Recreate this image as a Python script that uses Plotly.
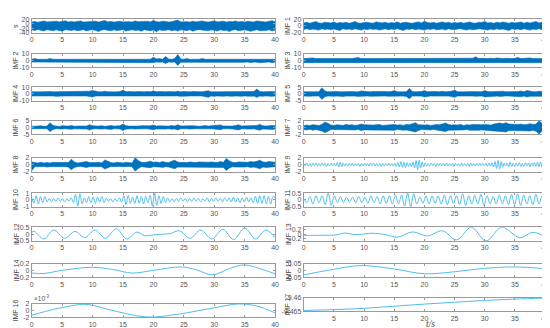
import numpy as np
import plotly.graph_objects as go

# ---------------- data ----------------
names = ["s"] + ["IMF " + str(i) for i in range(1, 18)]

# dense, noise-like components: upper / lower envelopes sampled every 0.5 s
s_up = [7, 10, 6, 9, 12, 8, 9, 7, 11, 8, 9, 13, 7, 10, 8, 9, 12, 7, 8, 10,
        9, 11, 7, 9, 14, 8, 10, 7, 9, 11, 8, 10, 9, 7, 12, 9, 8, 10, 11, 7,
        15, 9, 8, 11, 10, 7, 9, 12, 16, 8, 10, 9, 7, 11, 8, 10, 12, 9, 7, 10,
        13, 8, 9, 11, 7, 10, 9, 12, 8, 10, 7, 11, 9, 8, 12, 10, 9, 7, 11, 13, 9]
s_lo = [-27, -30, -25, -29, -32, -26, -28, -31, -27, -29, -33, -26, -28, -30, -27, -31, -29, -26, -32, -28,
        -27, -30, -34, -28, -26, -29, -31, -27, -30, -28, -26, -32, -29, -27, -30, -28, -33, -26, -29, -31,
        -28, -35, -27, -30, -29, -26, -31, -28, -32, -27, -29, -30, -27, -33, -28, -26, -30, -29, -31, -27,
        -28, -32, -27, -30, -29, -34, -28, -26, -31, -29, -27, -30, -33, -28, -26, -31, -29, -30, -27, -32, -28]

imf1_up = [9, 11, 8, 10, 13, 9, 8, 11, 10, 9, 12, 8, 10, 9, 11, 8, 10, 13, 9, 8,
           10, 11, 9, 8, 12, 10, 9, 11, 8, 10, 9, 12, 8, 10, 11, 9, 8, 10, 12, 9,
           14, 10, 9, 11, 8, 10, 12, 9, 11, 8, 10, 9, 11, 8, 10, 12, 9, 8, 11, 10,
           13, 9, 10, 8, 11, 9, 12, 10, 8, 11, 9, 10, 12, 8, 11, 9, 10, 13, 9, 11, 10]
imf1_lo = [-10, -8, -11, -9, -10, -12, -8, -10, -9, -11, -9, -10, -13, -8, -10, -9, -11, -8, -10, -12,
           -9, -11, -8, -10, -9, -12, -10, -8, -11, -9, -10, -8, -11, -13, -9, -10, -8, -11, -9, -10,
           -12, -9, -10, -8, -11, -10, -9, -12, -8, -10, -11, -9, -8, -10, -12, -9, -11, -10, -8, -9,
           -10, -12, -9, -11, -8, -10, -9, -11, -13, -8, -10, -9, -11, -8, -10, -12, -9, -10, -8, -11, -9]

imf2_up = [2, 3, 2, 2.5, 2, 2, 3, 2, 2.5, 2, 2, 2, 3, 2, 2, 2.5, 2, 2, 3, 2,
           2.5, 2, 2, 2, 3, 2, 2, 2.5, 2, 2, 3, 2, 2.5, 2, 2, 2, 2.5, 2, 3, 2,
           5, 2.5, 3, 2, 6, 2.5, 2, 3, 9, 2.5, 2, 3, 2, 2.5, 2, 2, 3, 2, 2, 2.5,
           2, 2, 3, 2, 2.5, 2, 2, 3, 2, 2.5, 3, 2, 2.5, 3, 2, 2.5, 2, 3, 2, 2.5, 2]
imf2_lo = [-2, -2.5, -2, -3, -2, -2, -2.5, -2, -2, -3, -2, -2.5, -2, -2, -3, -2, -2, -2.5, -2, -2,
           -2, -3, -2, -2.5, -2, -2, -3, -2, -2.5, -2, -2, -2.5, -2, -3, -2, -2, -2, -2.5, -2, -3,
           -3, -2, -2.5, -2, -4, -2, -2.5, -2, -7, -2.5, -2, -2.5, -2, -3, -2, -2, -2.5, -2, -3, -2,
           -2, -3, -2, -2, -2.5, -2, -3, -2, -2, -2.5, -2.5, -2, -3, -2, -2.5, -3, -2, -2.5, -2, -3, -2]

imf3_up = [3, 3.5, 3, 4, 3, 3.5, 3, 3, 3.5, 3, 3, 3.5, 3, 3, 3.5, 3, 3, 4, 4.5, 3,
           3, 3.5, 3, 3, 3.5, 3, 4, 3, 3, 3.5, 3, 3, 3.5, 3, 3, 4, 3, 3.5, 3, 3,
           3.5, 3, 3, 4, 3, 3.5, 3, 3, 3.5, 3, 3, 3.5, 3, 3, 4, 3, 3.5, 5.5, 3, 3.5,
           3, 3, 3.5, 3, 4, 3, 3, 3.5, 3, 3, 3.5, 4.5, 3, 3.5, 3, 4, 3, 3.5, 3, 3, 3]
imf3_lo = [-3, -3, -3.5, -3, -3, -3.5, -3, -4, -3, -3, -3.5, -3, -3, -3.5, -3, -3, -3.5, -3, -3, -4,
           -3, -3, -3.5, -3, -3, -3.5, -3, -3, -4, -3, -3, -3.5, -3, -3, -3.5, -3, -3, -3, -3.5, -3,
           -3, -3.5, -3, -3, -3.5, -4, -3, -3, -3.5, -3, -3, -3, -3.5, -3, -3, -3.5, -3, -4, -3, -3,
           -3.5, -3, -3, -3.5, -3, -3, -4, -3, -3.5, -3, -3, -3.5, -4, -3, -3, -3.5, -3, -3, -3.5, -3, -3]

imf4_up = [3, 3.5, 3, 3, 3.5, 3, 3.5, 3, 3, 3.5, 3, 3.5, 3, 3, 3.5, 3, 3.5, 3, 3, 4,
           5, 3.5, 3, 3, 4, 3, 3.5, 3, 3, 3.5, 5.5, 3, 3.5, 3, 3, 3.5, 3, 3, 3.5, 3,
           4.5, 3, 3.5, 3, 3, 3.5, 3, 3, 4, 3, 3.5, 3, 3, 3.5, 3, 3.5, 3, 4, 4.5, 3,
           3, 3.5, 3, 3, 3.5, 3, 3.5, 3, 4, 3.5, 3, 3.5, 3, 3.5, 7, 3.5, 3, 3.5, 3, 3.5, 3]
imf4_lo = [-3, -3, -3.5, -3, -3, -3.5, -3, -3, -3.5, -3, -3.5, -3, -3, -3.5, -3, -3, -3.5, -3, -3, -3.5,
           -4.5, -3, -3, -3.5, -3, -3, -3.5, -3, -3, -3, -4, -3, -3, -3.5, -3, -3.5, -3, -3, -3.5, -3,
           -3.5, -3, -3, -3.5, -3, -3, -3.5, -3, -3, -3.5, -3, -3.5, -3, -3, -3.5, -3, -3, -3.5, -5, -3,
           -3.5, -3, -3, -3.5, -3, -3, -3.5, -3, -3, -3.5, -3, -3, -3.5, -3, -5, -3, -3.5, -3, -3, -3.5, -3]

imf5_up = [1.5, 1.8, 1.6, 1.5, 1.8, 1.6, 4.5, 2.2, 1.5, 1.7, 1.6, 1.8, 1.5, 1.6, 1.9, 1.5, 1.7, 1.6, 1.5, 2.2,
           1.8, 1.6, 1.5, 1.7, 1.8, 1.6, 1.5, 1.8, 1.6, 1.7, 2.4, 1.6, 1.5, 1.8, 1.6, 4.0, 1.8, 1.6, 1.5, 1.7,
           2.5, 1.6, 1.8, 1.5, 1.7, 1.6, 1.9, 1.5, 1.7, 2.0, 2.8, 1.6, 1.5, 1.8, 1.6, 1.7, 1.8, 1.5, 2.0, 1.6,
           2.5, 1.7, 1.6, 1.8, 1.5, 1.7, 2.0, 1.6, 1.5, 1.8, 1.6, 1.7, 2.2, 1.6, 2.5, 1.8, 1.6, 1.5, 2.0, 1.7, 1.6]
imf5_lo = [-1.6, -1.5, -1.7, -1.6, -1.8, -1.5, -4.0, -2.0, -1.6, -1.5, -1.7, -1.6, -1.5, -1.8, -1.6, -1.7, -1.5, -1.6, -1.8, -2.0,
           -1.6, -1.5, -1.7, -1.6, -1.5, -1.8, -1.6, -1.5, -1.7, -1.6, -2.0, -1.5, -1.7, -1.6, -1.8, -3.5, -1.6, -1.5, -1.7, -1.6,
           -2.2, -1.7, -1.5, -1.6, -1.8, -1.5, -1.7, -1.6, -1.5, -1.9, -2.5, -1.5, -1.7, -1.6, -1.5, -1.8, -1.6, -1.7, -1.8, -1.5,
           -2.2, -1.6, -1.5, -1.7, -1.6, -1.8, -1.9, -1.5, -1.6, -1.7, -1.5, -1.8, -2.0, -1.6, -2.2, -1.7, -1.5, -1.6, -1.8, -1.6, -1.7]

imf6_up = [0.8, 1.0, 0.9, 1.2, 0.9, 1.0, 3.5, 1.5, 1.0, 0.8, 1.2, 0.9, 1.0, 1.4, 0.9, 1.0, 0.8, 1.1, 1.0, 2.0,
           1.2, 0.9, 1.0, 1.3, 0.9, 1.1, 1.5, 1.0, 0.9, 1.2, 2.5, 1.3, 1.0, 0.9, 1.2, 1.0, 1.3, 1.1, 0.9, 1.2,
           1.8, 1.0, 1.2, 0.9, 1.1, 1.0, 1.4, 1.0, 2.0, 1.1, 1.0, 0.9, 1.2, 1.3, 1.0, 0.9, 1.1, 1.4, 1.0, 1.2,
           1.0, 1.3, 1.9, 1.1, 1.0, 1.2, 1.0, 1.4, 2.0, 1.1, 1.2, 1.0, 1.3, 1.1, 1.5, 2.2, 1.2, 1.0, 1.3, 1.5, 1.2]
imf6_lo = [-0.9, -1.0, -0.8, -1.1, -1.0, -0.9, -3.0, -1.4, -0.9, -1.0, -1.1, -1.0, -0.9, -1.3, -1.0, -0.9, -1.0, -1.0, -1.1, -1.8,
           -1.1, -1.0, -0.9, -1.2, -1.0, -1.0, -1.4, -0.9, -1.0, -1.1, -2.2, -1.2, -0.9, -1.0, -1.1, -0.9, -1.2, -1.0, -1.0, -1.1,
           -1.6, -1.1, -1.0, -1.0, -1.2, -0.9, -1.3, -1.1, -1.8, -1.0, -0.9, -1.0, -1.1, -1.2, -0.9, -1.0, -1.2, -1.3, -1.1, -1.0,
           -1.1, -1.2, -1.7, -1.0, -1.1, -1.0, -1.1, -1.3, -1.8, -1.0, -1.1, -1.1, -1.2, -1.0, -1.4, -2.0, -1.1, -1.1, -1.2, -1.4, -1.1]

imf7_up = [0.5, 0.7, 0.6, 0.8, 0.7, 0.6, 0.9, 1.6, 1.2, 0.7, 0.6, 0.8, 0.7, 0.6, 0.9, 0.7, 0.8, 0.6, 0.7, 1.0,
           0.8, 0.7, 0.6, 0.7, 0.8, 0.9, 0.6, 0.7, 0.8, 0.7, 0.9, 0.7, 0.8, 0.6, 0.9, 0.8, 1.2, 1.4, 0.8, 0.7,
           0.7, 0.8, 0.6, 0.7, 0.9, 0.8, 1.1, 1.3, 0.9, 0.7, 0.8, 0.7, 0.9, 0.6, 0.8, 0.7, 0.9, 0.8, 0.7, 0.8,
           0.9, 0.8, 0.7, 1.0, 1.2, 1.3, 1.1, 1.4, 1.0, 0.9, 0.8, 0.9, 1.0, 0.8, 0.9, 1.1, 0.9, 1.0, 2.0, 1.2, 0.8]
imf7_lo = [-0.6, -0.7, -0.5, -0.8, -0.6, -0.7, -1.0, -1.5, -1.1, -0.6, -0.7, -0.6, -0.8, -0.7, -0.6, -0.8, -0.7, -0.7, -0.6, -0.9,
           -0.7, -0.8, -0.6, -0.7, -0.7, -0.8, -0.7, -0.6, -0.7, -0.8, -0.8, -0.6, -0.7, -0.8, -0.7, -0.9, -1.1, -1.3, -0.9, -0.6,
           -0.8, -0.7, -0.7, -0.6, -0.8, -0.9, -1.0, -1.2, -0.8, -0.7, -0.7, -0.8, -0.7, -0.7, -0.6, -0.8, -0.8, -0.7, -0.8, -0.7,
           -0.8, -0.9, -0.8, -0.9, -1.1, -1.2, -1.2, -1.3, -0.9, -0.8, -0.9, -0.8, -0.9, -0.9, -1.0, -1.0, -0.8, -1.1, -1.9, -1.1, -0.7]

imf8_up = [0.8, 0.6, 0.5, 0.7, 0.5, 0.6, 0.5, 0.7, 0.6, 0.5, 0.6, 0.7, 0.6, 1.6, 0.8, 0.5, 0.6, 0.7, 0.9, 0.6,
           0.5, 0.6, 0.7, 0.5, 1.4, 0.9, 0.6, 0.5, 0.7, 0.6, 0.5, 0.7, 0.6, 0.5, 2.0, 1.2, 0.7, 0.6, 0.8, 1.0,
           0.7, 0.8, 0.6, 0.9, 0.7, 0.6, 1.0, 1.3, 0.8, 0.6, 0.7, 0.6, 0.8, 0.7, 0.6, 0.8, 0.7, 0.6, 0.7, 0.8,
           0.7, 0.6, 0.9, 0.7, 1.8, 1.1, 0.7, 0.6, 0.8, 0.7, 0.6, 0.7, 0.9, 0.8, 1.0, 1.3, 0.8, 0.7, 0.9, 0.8, 0.7]
imf8_lo = [-1.8, -0.6, -0.5, -0.6, -0.5, -0.7, -0.6, -0.5, -0.6, -0.6, -0.5, -0.6, -0.7, -1.5, -0.8, -0.6, -0.5, -0.6, -0.8, -0.6,
           -0.6, -0.5, -0.6, -0.6, -1.3, -0.8, -0.5, -0.6, -0.6, -0.5, -0.6, -0.6, -0.5, -0.6, -1.9, -1.1, -0.6, -0.7, -0.7, -0.9,
           -0.6, -0.7, -0.7, -0.8, -0.6, -0.7, -0.9, -1.2, -0.7, -0.6, -0.6, -0.7, -0.7, -0.6, -0.7, -0.7, -0.6, -0.7, -0.6, -0.7,
           -0.6, -0.7, -0.8, -0.8, -1.7, -1.0, -0.6, -0.7, -0.7, -0.6, -0.7, -0.6, -0.8, -0.7, -0.9, -1.2, -0.7, -0.8, -0.8, -0.7, -0.6]

# oscillating components: successive extrema, evenly spaced in time
imf9 = [0.4, -0.3, 0.5, -0.4, 0.3, -0.5, 0.4, -0.3, 0.5, -0.4, 0.3, -0.4, 0.5, -0.3, 0.4, -0.5, 0.3, -0.4, 0.4, -0.3,
        0.5, -0.4, 0.6, -0.7, 0.8, -0.6, 0.5, -0.4, 0.3, -0.4, 0.4, -0.3, 0.5, -0.4, 0.3, -0.3, 0.4, -0.5, 0.3, -0.4,
        0.4, -0.3, 0.3, -0.4, 0.5, -0.3, 0.4, -0.4, 0.3, -0.3, 0.4, -0.5, 0.3, -0.4, 0.4, -0.3, 0.5, -0.4, 0.3, -0.4,
        0.4, -0.5, 0.6, -0.7, 0.9, -0.8, 0.7, -0.9, 0.6, -0.5, 0.4, -0.6, 0.8, -1.0, 1.2, -1.5, 1.3, -1.0, 0.8, -0.6,
        0.5, -0.4, 0.3, -0.4, 0.5, -0.3, 0.4, -0.5, 0.4, -0.3, 0.5, -0.4, 0.3, -0.4, 0.5, -0.4, 0.3, -0.3, 0.4, -0.5,
        0.4, -0.3, 0.3, -0.4, 0.5, -0.4, 0.3, -0.3, 0.4, -0.5, 0.5, -0.4, 0.3, -0.4, 0.4, -0.3, 0.5, -0.4, 0.4, -0.3,
        0.4, -0.5, 0.5, -0.4, 0.6, -0.7, 0.9, -1.1, 1.3, -1.2, 0.9, -0.7, 0.5, -0.4, 0.5, -0.6, 0.7, -0.5, 0.4, -0.5,
        0.5, -0.4, 0.6, -0.5, 0.4, -0.5, 0.6, -0.4, 0.5, -0.6, 0.5, -0.4, 0.6, -0.5, 0.7, -0.6, 0.8, -0.7, 0.6, -0.5]

imf10 = [0.3, -0.5, 0.6, -0.6, 0.5, -0.4, 0.5, -0.3, 0.2, -0.3, 0.2, -0.2, 0.3, -0.2,
         0.2, -0.3, 0.2, -0.2, 0.3, -0.4, 0.8, -0.9, 0.9, -0.6, 0.3, -0.4, 0.5, -0.4,
         0.4, -0.5, 0.4, -0.3, 0.5, -0.4, 0.3, -0.2, 0.2, -0.3, 0.2, -0.2, 0.3, -0.3,
         0.6, -0.7, 0.7, -0.5, 0.4, -0.5, 0.6, -0.5, 0.5, -0.6, 0.5, -0.4, 0.7, -0.9,
         1.0, -0.8, 0.6, -0.5, 0.5, -0.4, 0.3, -0.3, 0.2, -0.3, 0.2, -0.2, 0.3, -0.2,
         0.2, -0.3, 0.2, -0.2, 0.3, -0.2, 0.2, -0.3, 0.2, -0.2, 0.3, -0.3, 0.2, -0.2,
         0.3, -0.2, 0.2, -0.3, 0.3, -0.2, 0.3, -0.3, 0.4, -0.3, 0.3, -0.4, 0.3, -0.3,
         0.4, -0.3, 0.3, -0.4, 0.5, -0.5, 0.6, -0.5, 0.6, -0.6, 0.5, -0.6, 0.5, 0.3]

imf11 = [0.1, -0.2, 0.25, -0.3, 0.3, -0.2, 0.3, -0.35, 0.5, -0.4,
         0.3, -0.2, 0.25, -0.2, 0.2, -0.15, 0.2, -0.2, 0.25, -0.2,
         0.2, -0.25, 0.3, -0.2, 0.25, -0.3, 0.3, -0.25, 0.3, -0.3,
         0.35, -0.3, 0.35, -0.45, 0.5, -0.5, 0.45, -0.3, 0.2, -0.25,
         0.3, -0.3, 0.3, -0.25, 0.3, -0.3, 0.35, -0.35, 0.3, -0.25,
         0.3, -0.35, 0.45, -0.4, 0.3, -0.3, 0.35, -0.3, 0.4, -0.4,
         0.3, -0.3, 0.25, -0.3, 0.35, -0.3, 0.3, -0.35, 0.4, -0.35,
         0.45, -0.4, 0.35, -0.3, 0.3, -0.35, 0.4, -0.3, 0.3, 0.1]

# slow components: (time, value) points
t12 = [0, 0.4, 2.0, 3.6, 5.4, 7.1, 8.7, 10.4, 12.1, 13.9, 15.6, 17.3, 18.6, 20.0, 21.5, 22.8,
       24.3, 26.0, 27.8, 29.6, 31.4, 33.2, 35.0, 36.8, 38.5, 40]
v12 = [0.15, 0.2, -0.35, 0.3, -0.3, 0.2, -0.25, 0.3, -0.3, 0.4, -0.35, 0.15, -0.12, -0.05, 0.0, 0.05,
       0.25, -0.3, 0.3, -0.35, 0.35, -0.4, 0.45, -0.35, 0.3, -0.25]
t13 = [0, 3, 5.5, 6.8, 8.5, 11.5, 13.5, 15.6, 18.0, 20.5, 23.0, 25.3, 27.8, 30.2, 32.8, 35.8, 38.0, 40]
v13 = [-0.05, -0.05, -0.03, 0.05, -0.02, 0.04, -0.02, -0.13, 0.1, -0.08, 0.15, -0.25, 0.3, -0.3, 0.3, -0.15, 0.08, -0.12]
t14 = [0, 2, 5, 10, 13.5, 16.5, 20, 24.5, 27, 29.7, 32.5, 35, 38, 40]
v14 = [-0.08, -0.09, 0.0, 0.09, 0.02, -0.08, 0.0, 0.1, 0.02, -0.13, 0.05, 0.16, 0.02, -0.1]
t15 = [0, 4, 9.5, 15, 20, 25, 30, 35, 40]
v15 = [-0.033, 0.0, 0.035, 0.01, -0.025, -0.01, 0.015, 0.025, 0.012]
t16 = [0, 4, 8.5, 10, 14, 19, 24, 30, 34, 37, 40]
v16 = [-1.4, 0.5, 1.8, 1.5, -0.3, -1.9, -1.1, 0.8, 1.9, 1.3, -0.7]   # x 1e-3
t17 = [0, 5, 10, 15, 20, 25, 30, 35, 40]
v17 = [-9.4647, -9.4644, -9.4639, -9.4631, -9.4623, -9.4616, -9.4609, -9.4604, -9.4600]

y_ranges = [[-40, 20], [-20, 20], [-10, 10], [-10, 10], [-10, 10], [-5, 5], [-5, 5], [-2, 2], [-2, 2],
            [-2, 2], [-1, 1], [-0.5, 0.5], [-0.5, 0.5], [-0.3, 0.3], [-0.2, 0.2], [-0.05, 0.05],
            [-2, 2], [-9.4651, -9.4599]]
y_ticks = [[-40, -20, 0, 20], [-20, 0, 20], [-10, 0, 10], [-10, 0, 10], [-10, 0, 10], [-5, 0, 5], [-5, 0, 5],
           [-2, 0, 2], [-2, 0, 2], [-2, 0, 2], [-1, 0, 1], [-0.5, 0, 0.5], [-0.5, 0, 0.5], [-0.2, 0, 0.2],
           [-0.2, 0, 0.2], [-0.05, 0, 0.05], [-2, 0, 2], [-9.465, -9.46]]
x_ticks = [0, 5, 10, 15, 20, 25, 30, 35, 40]

# ---------------- figure ----------------
DARK = "#0072BD"
LIGHT = "#4DBEEE"
W, H = 550, 328

bands = {0: (s_up, s_lo), 1: (imf1_up, imf1_lo), 2: (imf2_up, imf2_lo), 3: (imf3_up, imf3_lo),
         4: (imf4_up, imf4_lo), 5: (imf5_up, imf5_lo), 6: (imf6_up, imf6_lo), 7: (imf7_up, imf7_lo),
         8: (imf8_up, imf8_lo)}
waves = {9: imf9, 10: imf10, 11: imf11}
curves = {12: (t12, v12), 13: (t13, v13), 14: (t14, v14), 15: (t15, v15), 16: (t16, v16), 17: (t17, v17)}

fig = go.Figure()
row_tops = [7.3, 42.7, 76.7, 111, 149, 185, 220, 257, 298]
box_h = 14


def box_top(k):
    row, col = divmod(k, 2)
    if k == 17:
        return 292
    return row_tops[row]


layout = {}
for k in range(18):
    row, col = divmod(k, 2)
    sfx = "" if k == 0 else str(k + 1)
    xa, ya = "x" + sfx, "y" + sfx
    if k in bands:
        up, lo = bands[k]
        tu = np.linspace(0, 40, len(up))
        tl = np.linspace(0, 40, len(lo))
        fig.add_trace(go.Scatter(x=list(tu) + list(tl[::-1]), y=list(up) + list(lo[::-1]),
                                 fill="toself", fillcolor=DARK, mode="lines",
                                 line=dict(color=DARK, width=0.6), xaxis=xa, yaxis=ya,
                                 hoverinfo="skip"))
    elif k in waves:
        v = waves[k]
        t = np.linspace(0, 40, len(v))
        fig.add_trace(go.Scatter(x=t, y=v, mode="lines", line=dict(color=LIGHT, width=1, shape="spline"),
                                 xaxis=xa, yaxis=ya))
    else:
        t, v = curves[k]
        fig.add_trace(go.Scatter(x=t, y=v, mode="lines", line=dict(color=LIGHT, width=1, shape="spline"),
                                 xaxis=xa, yaxis=ya))

    top = box_top(k)
    xd = [22 / W, 268 / W] if col == 0 else [297 / W, 541 / W]
    yd = [1 - (top + box_h) / H, 1 - top / H]
    xt = [str(v) for v in x_ticks]
    if k in (4, 17):
        xt[0] = " "
    yt = [("%g" % v) for v in y_ticks[k]]
    axcommon = dict(showline=True, linecolor="#9a9a9a", linewidth=1, mirror="ticks", ticks="inside",
                    ticklen=2, tickcolor="#9a9a9a", showgrid=False, zeroline=False,
                    tickfont=dict(size=7, color="#555"), ticklabeloverflow="allow")
    layout["xaxis" + sfx] = dict(domain=xd, anchor=ya, range=[0, 40], tickvals=x_ticks, ticktext=xt, **axcommon)
    layout["yaxis" + sfx] = dict(domain=yd, anchor=xa, range=y_ranges[k], tickvals=y_ticks[k], ticktext=yt,
                                 **axcommon)

annotations = []
for k in range(18):
    row, col = divmod(k, 2)
    top = box_top(k)
    annotations.append(dict(text=names[k], x=(6 if col == 0 else 281) / W, y=1 - (top + box_h / 2) / H,
                            xref="paper", yref="paper", textangle=-90, showarrow=False,
                            font=dict(size=7, color="#444"), xanchor="center", yanchor="middle"))
annotations.append(dict(text="×10<sup>-3</sup>", x=22 / W, y=1 - 292 / H, xref="paper", yref="paper",
                        showarrow=False, xanchor="left", yanchor="middle", font=dict(size=6.5, color="#555")))
annotations.append(dict(text="<i>t/s</i>", x=425 / W, y=0, xref="paper", yref="paper",
                        showarrow=False, xanchor="center", yanchor="bottom", borderpad=0, yshift=3,
                        font=dict(size=9.5, color="#444", family="Liberation Serif, DejaVu Serif")))

fig.update_layout(width=W, height=H, margin=dict(l=0, r=0, t=0, b=0), paper_bgcolor="white",
                  plot_bgcolor="white", showlegend=False, annotations=annotations,
                  font=dict(family="Liberation Sans, Arial, sans-serif", size=7, color="#555"), **layout)
fig.write_html("out.html")
